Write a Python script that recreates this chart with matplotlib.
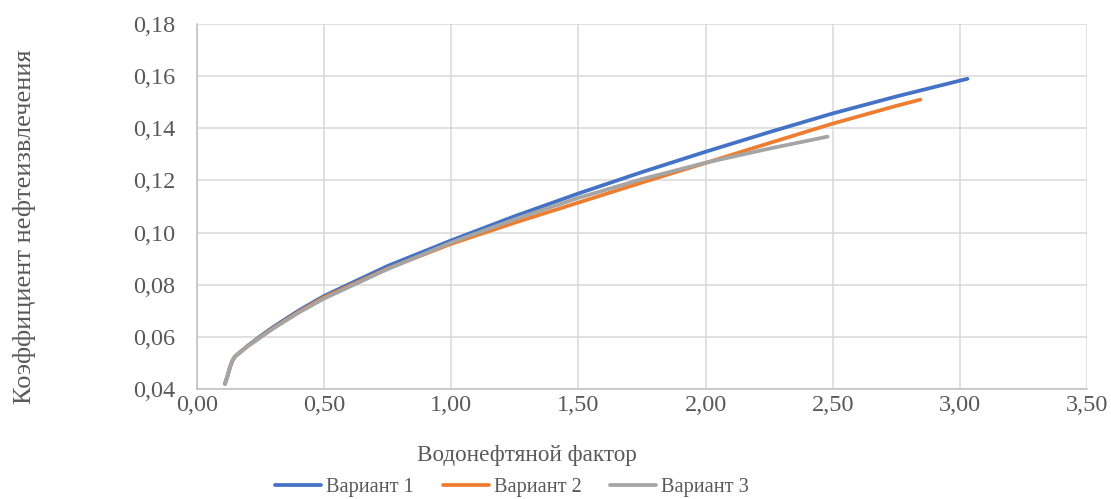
import matplotlib
matplotlib.use("Agg")
import matplotlib.pyplot as plt
from matplotlib.ticker import FuncFormatter, MultipleLocator

# Водонефтяной фактор (x) и КИН (y) для трёх вариантов разработки
wor_1 = [0.11, 0.12, 0.13, 0.14, 0.15, 0.17, 0.20, 0.25, 0.30, 0.40, 0.50, 0.75, 1.00, 1.25, 1.50, 1.75, 2.00, 2.25, 2.50, 2.75, 3.03]
rf_1 = [0.042, 0.045, 0.0485, 0.051, 0.0525, 0.0542, 0.0566, 0.0603, 0.0638, 0.0701, 0.0757, 0.0872, 0.0970, 0.1063, 0.1150, 0.1232, 0.1310, 0.1385, 0.1457, 0.1522, 0.1590]

wor_2 = [0.11, 0.12, 0.13, 0.14, 0.15, 0.17, 0.20, 0.25, 0.30, 0.40, 0.50, 0.75, 1.00, 1.25, 1.50, 1.75, 2.00, 2.25, 2.50, 2.75, 2.845]
rf_2 = [0.042, 0.045, 0.0485, 0.051, 0.0525, 0.0541, 0.0565, 0.0600, 0.0634, 0.0696, 0.0752, 0.0862, 0.0957, 0.1038, 0.1115, 0.1192, 0.1267, 0.1343, 0.1418, 0.1486, 0.1510]

wor_3 = [0.11, 0.12, 0.13, 0.14, 0.15, 0.17, 0.20, 0.25, 0.30, 0.40, 0.50, 0.75, 1.00, 1.25, 1.50, 1.75, 2.00, 2.25, 2.48]
rf_3 = [0.042, 0.045, 0.0485, 0.051, 0.0525, 0.0541, 0.0564, 0.0598, 0.0632, 0.0693, 0.0747, 0.0860, 0.0962, 0.1051, 0.1133, 0.1205, 0.1268, 0.1322, 0.1368]

series_names = ["Вариант 1", "Вариант 2", "Вариант 3"]
series_colors = ["#4472C4", "#ED7D31", "#A5A5A5"]

x_title = "Водонефтяной фактор"
y_title = "Коэффициент нефтеизвлечения"

text_color = "#595959"
plt.rcParams["font.family"] = ["Liberation Serif", "DejaVu Serif"]

W, H = 1111, 499
fig = plt.figure(figsize=(W / 100, H / 100), dpi=100)
ax = fig.add_axes([197 / W, 1 - 389 / H, (1087 - 197) / W, (389 - 24) / H])

for xs, ys, name, color in zip([wor_1, wor_2, wor_3], [rf_1, rf_2, rf_3], series_names, series_colors):
    ax.plot(xs, ys, color=color, lw=2.7, label=name, solid_capstyle="round",
            solid_joinstyle="round", zorder=3)

ax.set_xlim(0, 3.5)
ax.set_ylim(0.04, 0.18)
ax.xaxis.set_major_locator(MultipleLocator(0.5))
ax.yaxis.set_major_locator(MultipleLocator(0.02))
comma_fmt = FuncFormatter(lambda v, p: f"{v:.2f}".replace(".", ","))
ax.xaxis.set_major_formatter(comma_fmt)
ax.yaxis.set_major_formatter(comma_fmt)

ax.grid(True, color="#D9D9D9", lw=1.1, zorder=0)
for side in ["top", "right"]:
    ax.spines[side].set_visible(False)
for side in ["left", "bottom"]:
    ax.spines[side].set_color("#BFBFBF")
    ax.spines[side].set_linewidth(1.1)
ax.tick_params(length=0, labelsize=17.5, colors=text_color)
ax.tick_params(axis="y", pad=15.5)
ax.tick_params(axis="x", pad=4)

fig.text(527 / W, 1 - 456 / H, x_title, fontsize=16.7, color=text_color,
         ha="center", va="center")
fig.text(25 / W, 1 - 227 / H, y_title, fontsize=19, color=text_color,
         ha="center", va="center", rotation=90)

leg = fig.legend(loc="center", bbox_to_anchor=(512 / W, 1 - 487 / H), ncol=3, frameon=False,
                 fontsize=14.7, handlelength=2.26, columnspacing=1.4, handletextpad=0.25,
                 borderpad=0, borderaxespad=0)
for t in leg.get_texts():
    t.set_color(text_color)

fig.savefig("out.png", dpi=100)
